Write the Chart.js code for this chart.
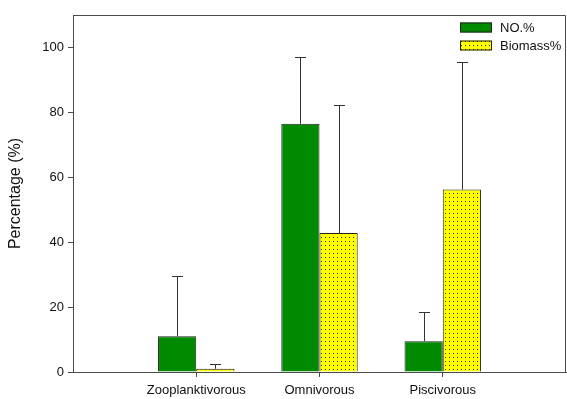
<!DOCTYPE html>
<html>
<head>
<meta charset="utf-8">
<script src="https://cdn.jsdelivr.net/npm/chart.js@4"></script>
<style>
  html, body { margin: 0; padding: 0; background: #fff; }
  #wrap { width: 567px; height: 399px; }
</style>
</head>
<body>
<div id="wrap"><canvas id="chart" width="567" height="399"></canvas></div>
<script>
// ===== DATA =====
const categories = ['', 'Zooplanktivorous', 'Omnivorous', 'Piscivorous', '']; // blank ends pad the axis
const noPct = [null, 11.0, 76.5, 9.5, null];
const noErr = [null, 18.5, 20.6, 9.0, null];
const biomassPct = [null, 1.0, 42.8, 56.2, null];
const biomassErr = [null, 1.5, 39.6, 39.2, null];
const yTicks = [0, 20, 40, 60, 80, 100];

const GREEN = '#008a00';
const YELLOW = '#ffff00';
const AXIS = '#4a4a4a';

// dotted yellow fill
function dotPattern() {
    const c = document.createElement('canvas');
    c.width = 4; c.height = 4;
    const g = c.getContext('2d');
    g.fillStyle = YELLOW;
    g.fillRect(0, 0, 4, 4);
    g.fillStyle = '#2a2a00';
    g.fillRect(1, 1, 1, 1);
    return g.createPattern(c, 'repeat');
}

// error bars (upper only) + box frame + legend
const extras = {
    id: 'extras',
    afterDatasetsDraw(chart) {
        const ctx = chart.ctx;
        const y = chart.scales.y;
        ctx.save();
        ctx.strokeStyle = '#333';
        ctx.lineWidth = 1;
        chart.data.datasets.forEach((ds, di) => {
            const meta = chart.getDatasetMeta(di);
            meta.data.forEach((bar, i) => {
                const v = ds.data[i];
                const e = ds.errors[i];
                if (v == null || e == null) return;
                const x = Math.round(bar.x) + 0.5;
                const top = Math.round(y.getPixelForValue(v + e)) + 0.5;
                ctx.beginPath();
                ctx.moveTo(x, bar.y);
                ctx.lineTo(x, top);
                ctx.moveTo(x - 5.5, top);
                ctx.lineTo(x + 5.5, top);
                ctx.stroke();
            });
        });
        ctx.restore();
    },
    afterDraw(chart) {
        const ctx = chart.ctx;
        const a = chart.chartArea;
        ctx.save();
        ctx.strokeStyle = AXIS;
        ctx.lineWidth = 1;
        ctx.beginPath();
        ctx.moveTo(a.left, a.top + 0.5);
        ctx.lineTo(a.right - 0.5, a.top + 0.5);
        ctx.lineTo(a.right - 0.5, a.bottom);
        ctx.stroke();

        // legend, top right inside the plot
        const items = [
            { label: 'NO.%', fill: GREEN },
            { label: 'Biomass%', fill: chart.data.datasets[1].backgroundColor }
        ];
        ctx.font = '13px "Liberation Sans", Arial, sans-serif';
        ctx.textBaseline = 'middle';
        items.forEach((it, k) => {
            const bx = 460, by = 22.5 + k * 18;
            ctx.fillStyle = it.fill;
            ctx.fillRect(bx, by, 32, 10);
            ctx.strokeStyle = '#222';
            ctx.strokeRect(bx + 0.5, by + 0.5, 31, 9);
            ctx.fillStyle = '#111';
            ctx.fillText(it.label, 500, by + 5.5);
        });
        ctx.restore();
    }
};

new Chart(document.getElementById('chart'), {
    type: 'bar',
    data: {
        labels: categories,
        datasets: [
            { label: 'NO.%', data: noPct, errors: noErr, backgroundColor: GREEN, borderColor: '#222', borderWidth: 1, borderSkipped: 'bottom' },
            { label: 'Biomass%', data: biomassPct, errors: biomassErr, backgroundColor: dotPattern(), borderColor: '#222', borderWidth: 1, borderSkipped: 'bottom' }
        ]
    },
    options: {
        responsive: false,
        animation: false,
        layout: { padding: { top: 15, right: 1, left: 0, bottom: 0 } },
        datasets: { bar: { categoryPercentage: 0.62, barPercentage: 1.0 } },
        plugins: { legend: { display: false }, tooltip: { enabled: false } },
        scales: {
            x: {
                offset: false,
                grid: {
                    offset: false,
                    drawOnChartArea: false,
                    tickLength: 5,
                    // no tick marks at the blank end slots
                    color: c => (c.index === 0 || c.index === categories.length - 1) ? 'rgba(0,0,0,0)' : AXIS
                },
                border: { color: AXIS, width: 1 },
                ticks: { color: '#111', font: { family: '"Liberation Sans", Arial, sans-serif', size: 13 }, padding: 6, maxRotation: 0, autoSkip: false },
                afterFit: s => { s.height = 27; s.paddingLeft = 0; s.paddingRight = 0; }
            },
            y: {
                min: 0,
                max: 110,
                grid: { drawOnChartArea: false, tickLength: 5, color: AXIS },
                border: { color: AXIS, width: 1 },
                ticks: { stepSize: 20, color: '#111', padding: 4, font: { family: '"Liberation Sans", Arial, sans-serif', size: 13 } },
                afterBuildTicks: s => { s.ticks = yTicks.map(v => ({ value: v })); },
                title: { display: true, text: 'Percentage (%)', color: '#111', font: { family: '"Liberation Sans", Arial, sans-serif', size: 16 }, padding: { top: 6, bottom: 0 } },
                afterFit: s => { s.width = 73; }
            }
        }
    },
    plugins: [extras]
});
</script>
</body>
</html>
